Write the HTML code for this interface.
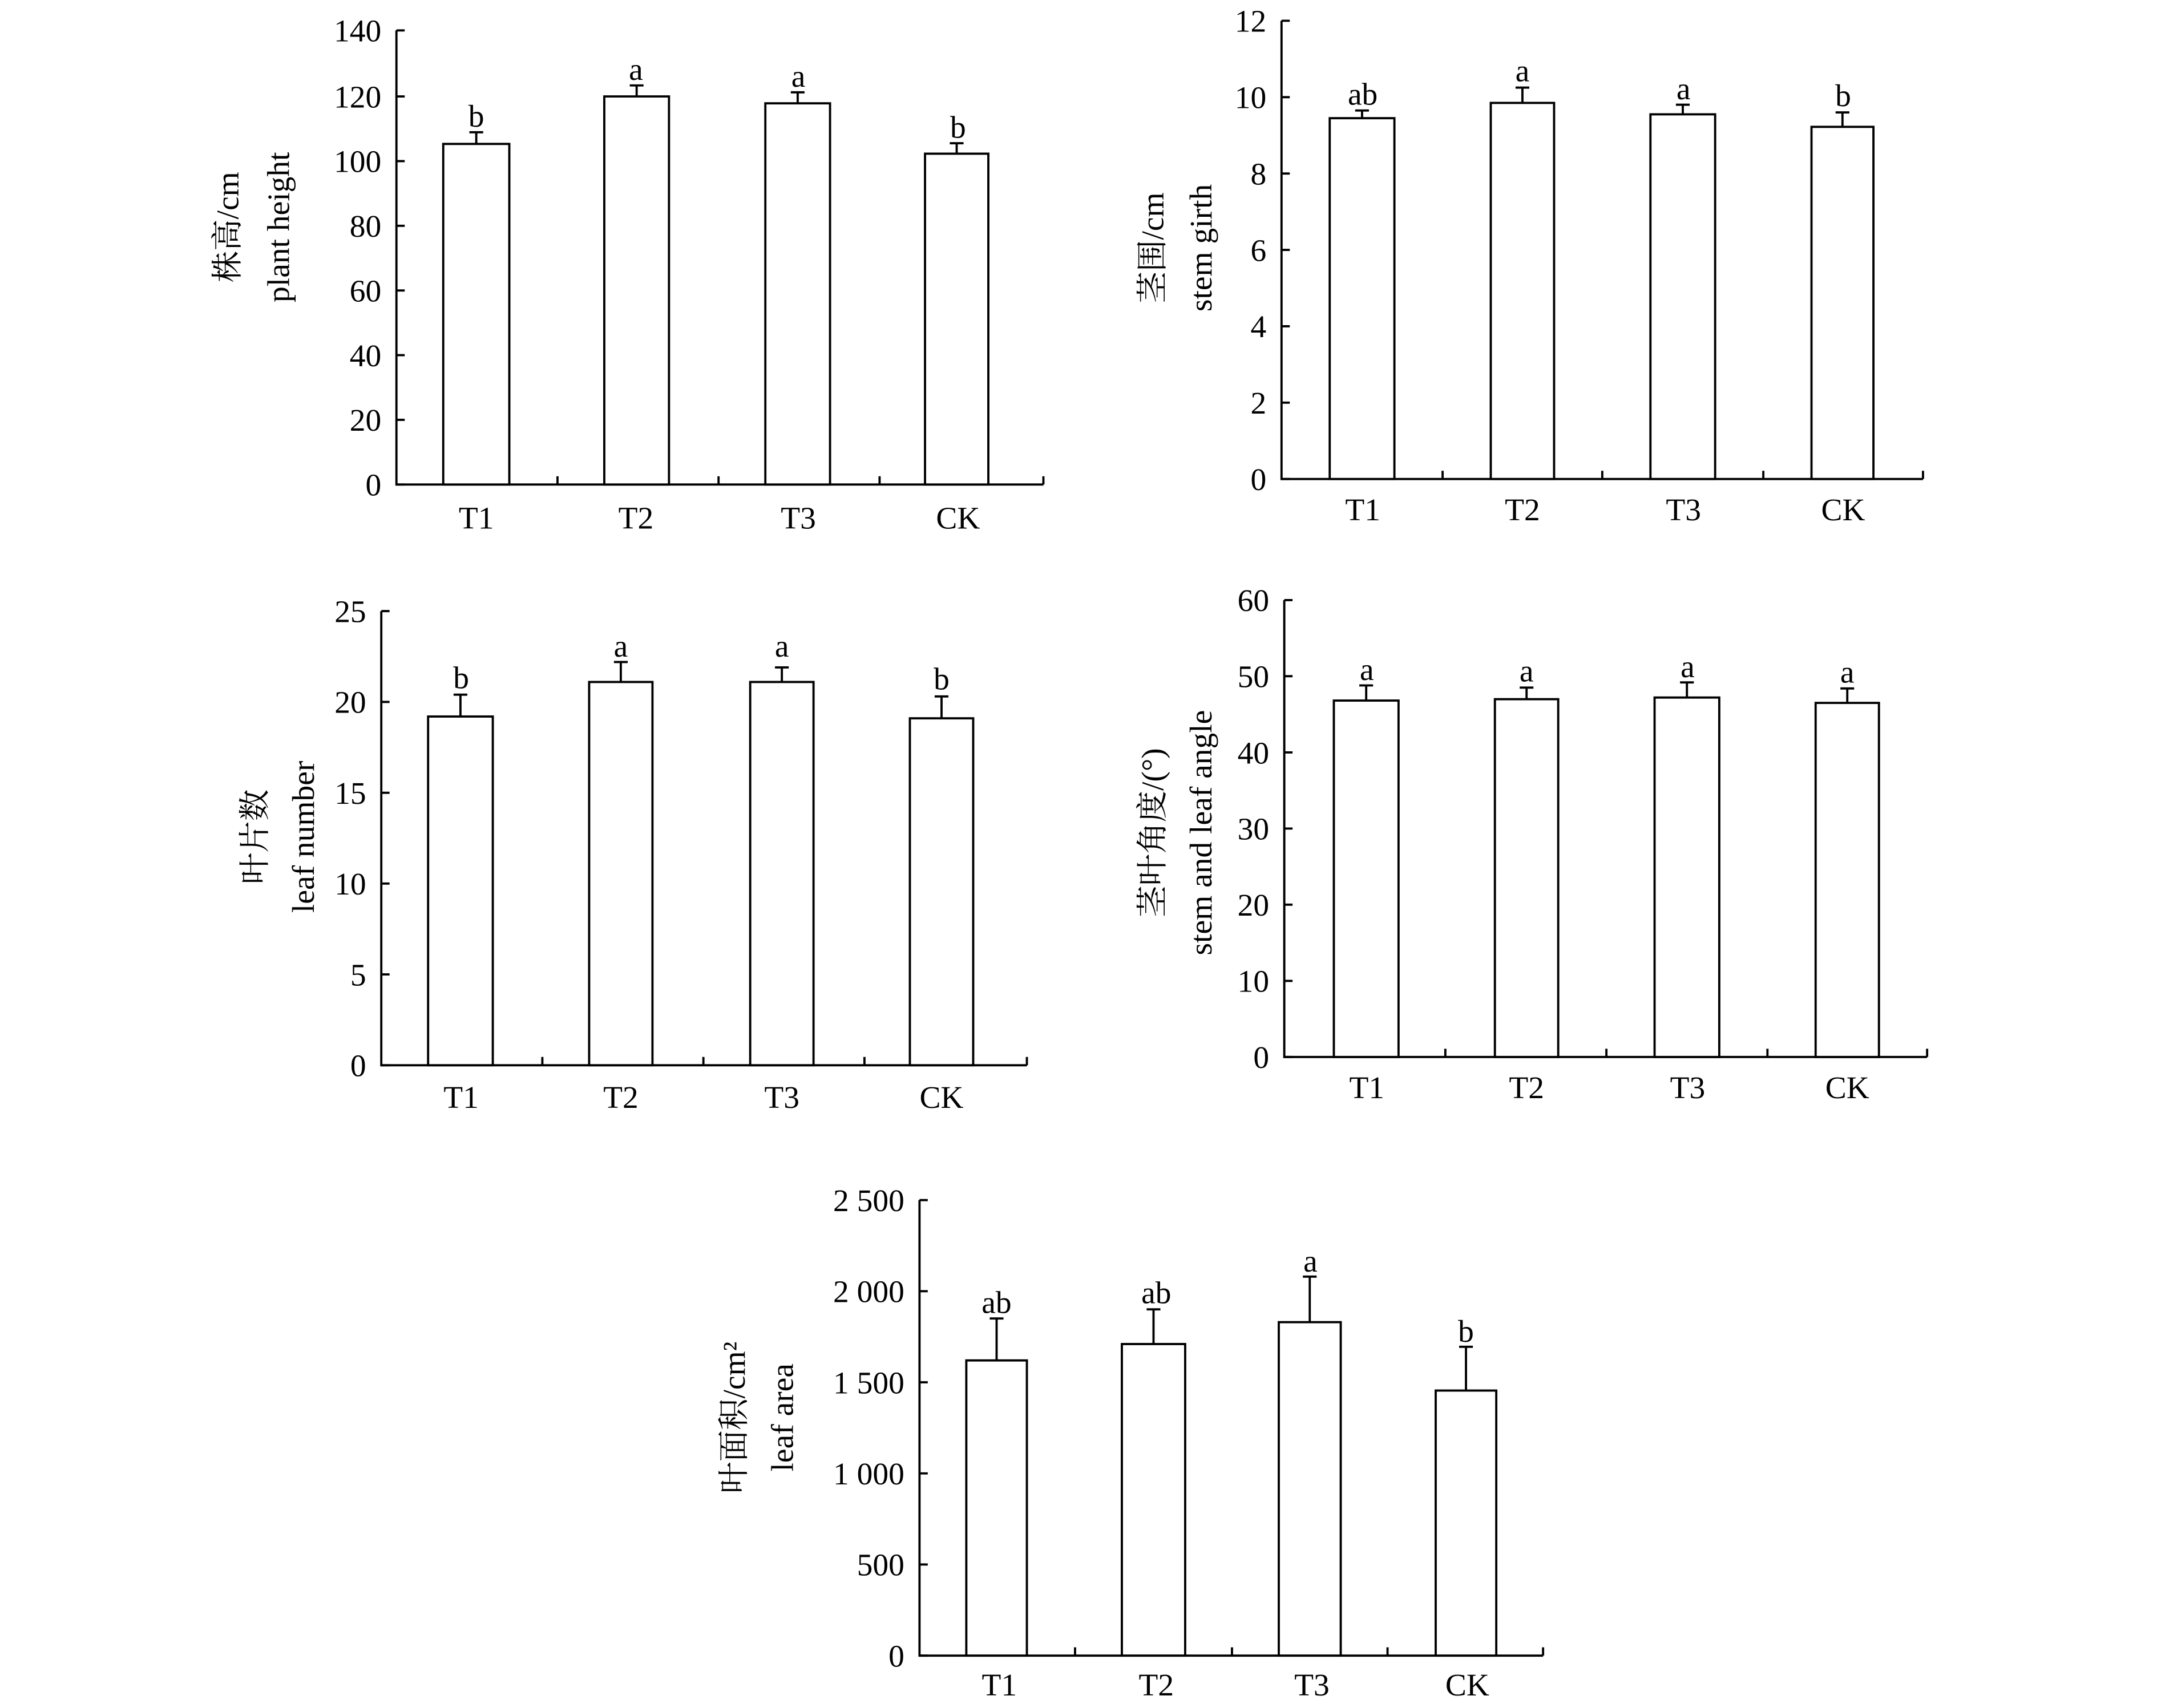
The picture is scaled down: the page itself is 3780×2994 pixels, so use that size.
<!DOCTYPE html>
<html><head><meta charset="utf-8"><style>
html,body{margin:0;padding:0;background:#fff;}
svg{display:block}
text{font-family:"Liberation Serif","Noto Serif CJK SC",serif;font-size:23px;fill:#000}
.t{text-anchor:end}
.c{text-anchor:middle}
</style></head><body>
<svg width="3780" height="2994" viewBox="0 0 1567 1241" xmlns="http://www.w3.org/2000/svg">
<g stroke="#000" stroke-width="1.6" fill="none">
<path d="M288 22V352H758"/>
<path d="M288 352H294M288 305H294M288 258H294M288 211H294M288 164H294M288 117H294M288 70H294M288 22H294"/>
<path d="M405 352V346M522 352V346M639 352V346M758 352V346"/>
<rect x="322" y="104.5" width="48" height="247.5" fill="#fff"/>
<rect x="439" y="70" width="47" height="282" fill="#fff"/>
<rect x="556" y="75" width="47" height="277" fill="#fff"/>
<rect x="672" y="111.6" width="46" height="240.4" fill="#fff"/>
<path d="M346 104.5V96M341 96H351M462.5 70V62M457.5 62H467.5M579.5 75V67M574.5 67H584.5M695 111.6V104M690 104H700"/>
<path d="M931 15V348H1397"/>
<path d="M931 348H937M931 292.5H937M931 237H937M931 181.5H937M931 126H937M931 70.5H937M931 15H937"/>
<path d="M1048 348V342M1164 348V342M1281 348V342M1397 348V342"/>
<rect x="966" y="85.8" width="47" height="262.2" fill="#fff"/>
<rect x="1083" y="74.7" width="46" height="273.3" fill="#fff"/>
<rect x="1199" y="83" width="47" height="265" fill="#fff"/>
<rect x="1316" y="92.1" width="45" height="255.9" fill="#fff"/>
<path d="M989.5 85.8V80.2M984.5 80.2H994.5M1106 74.7V63.6M1101 63.6H1111M1222.5 83V76M1217.5 76H1227.5M1338.5 92.1V81.6M1333.5 81.6H1343.5"/>
<path d="M277 444V774H746"/>
<path d="M277 774H283M277 708H283M277 642H283M277 576H283M277 510H283M277 444H283"/>
<path d="M394 774V768M511 774V768M628 774V768M746 774V768"/>
<rect x="311" y="520.6" width="47" height="253.4" fill="#fff"/>
<rect x="428" y="495.5" width="46" height="278.5" fill="#fff"/>
<rect x="545" y="495.5" width="46" height="278.5" fill="#fff"/>
<rect x="661" y="521.9" width="46" height="252.1" fill="#fff"/>
<path d="M334.5 520.6V504.7M329.5 504.7H339.5M451 495.5V481M446 481H456M568 495.5V484.9M563 484.9H573M684 521.9V506M679 506H689"/>
<path d="M933 436V768H1400"/>
<path d="M933 768H939M933 712.7H939M933 657.3H939M933 602H939M933 546.7H939M933 491.3H939M933 436H939"/>
<path d="M1050 768V762M1167 768V762M1284 768V762M1400 768V762"/>
<rect x="969" y="509" width="47" height="259" fill="#fff"/>
<rect x="1086" y="508" width="46" height="260" fill="#fff"/>
<rect x="1202" y="506.8" width="47" height="261.2" fill="#fff"/>
<rect x="1319" y="510.7" width="46" height="257.3" fill="#fff"/>
<path d="M992.5 509V498M987.5 498H997.5M1109 508V499.6M1104 499.6H1114M1225.5 506.8V495.8M1220.5 495.8H1230.5M1342 510.7V500.2M1337 500.2H1347"/>
<path d="M668 872V1203H1121"/>
<path d="M668 1203H674M668 1136.8H674M668 1070.6H674M668 1004.4H674M668 938.2H674M668 872H674"/>
<path d="M781 1203V1197M895 1203V1197M1008 1203V1197M1121 1203V1197"/>
<rect x="702" y="988.5" width="44" height="214.5" fill="#fff"/>
<rect x="815" y="976.6" width="46" height="226.4" fill="#fff"/>
<rect x="929" y="960.7" width="45" height="242.3" fill="#fff"/>
<rect x="1043" y="1010.4" width="44" height="192.6" fill="#fff"/>
<path d="M724 988.5V958M719 958H729M838 976.6V951.4M833 951.4H843M951.5 960.7V927.6M946.5 927.6H956.5M1065 1010.4V978.6M1060 978.6H1070"/>
</g>

<g class="t">
<text x="277" y="360">0</text><text x="277" y="313">20</text><text x="277" y="266">40</text><text x="277" y="219">60</text><text x="277" y="172">80</text><text x="277" y="125">100</text><text x="277" y="78">120</text><text x="277" y="30">140</text>
</g>
<g class="c">
<text x="346" y="384">T1</text><text x="462" y="384">T2</text><text x="580" y="384">T3</text><text x="696" y="384">CK</text>
<text x="346" y="92">b</text><text x="462" y="58">a</text><text x="580" y="63">a</text><text x="696" y="100">b</text>
<text transform="translate(173,165) rotate(-90)">株高/cm</text>
<text transform="translate(210,165) rotate(-90)">plant height</text>
</g>

<g class="t">
<text x="920" y="356">0</text><text x="920" y="300.5">2</text><text x="920" y="245">4</text><text x="920" y="189.5">6</text><text x="920" y="134">8</text><text x="920" y="78.5">10</text><text x="920" y="23">12</text>
</g>
<g class="c">
<text x="990" y="378">T1</text><text x="1106" y="378">T2</text><text x="1223" y="378">T3</text><text x="1339" y="378">CK</text>
<text x="990" y="76">ab</text><text x="1106" y="59">a</text><text x="1223" y="72">a</text><text x="1339" y="77">b</text>
<text transform="translate(845,180) rotate(-90)">茎围/cm</text>
<text transform="translate(880,180) rotate(-90)">stem girth</text>
</g>

<g class="t">
<text x="266" y="782">0</text><text x="266" y="716">5</text><text x="266" y="650">10</text><text x="266" y="584">15</text><text x="266" y="518">20</text><text x="266" y="452">25</text>
</g>
<g class="c">
<text x="335" y="805">T1</text><text x="451" y="805">T2</text><text x="568" y="805">T3</text><text x="684" y="805">CK</text>
<text x="335" y="500">b</text><text x="451" y="477">a</text><text x="568" y="477">a</text><text x="684" y="501">b</text>
<text transform="translate(193,608) rotate(-90)">叶片数</text>
<text transform="translate(228,608) rotate(-90)">leaf number</text>
</g>

<g class="t">
<text x="922" y="776">0</text><text x="922" y="720.7">10</text><text x="922" y="665.3">20</text><text x="922" y="610">30</text><text x="922" y="554.7">40</text><text x="922" y="499.3">50</text><text x="922" y="444">60</text>
</g>
<g class="c">
<text x="993" y="798">T1</text><text x="1109" y="798">T2</text><text x="1226" y="798">T3</text><text x="1342" y="798">CK</text>
<text x="993" y="494">a</text><text x="1109" y="495">a</text><text x="1226" y="492">a</text><text x="1342" y="496">a</text>
<text transform="translate(845,605) rotate(-90)">茎叶角度/(°)</text>
<text transform="translate(880,605) rotate(-90)">stem and leaf angle</text>
</g>

<g class="t">
<text x="657" y="1211">0</text><text x="657" y="1144.8">500</text><text x="657" y="1078.6">1 000</text><text x="657" y="1012.4">1 500</text><text x="657" y="946.2">2 000</text><text x="657" y="880">2 500</text>
</g>
<g class="c">
<text x="726" y="1232">T1</text><text x="840" y="1232">T2</text><text x="953" y="1232">T3</text><text x="1066" y="1232">CK</text>
<text x="724" y="954">ab</text><text x="840" y="947">ab</text><text x="952" y="924">a</text><text x="1065" y="975">b</text>
<text transform="translate(541,1030) rotate(-90)">叶面积/cm²</text>
<text transform="translate(576,1030) rotate(-90)">leaf area</text>
</g>
</svg>
</body></html>
